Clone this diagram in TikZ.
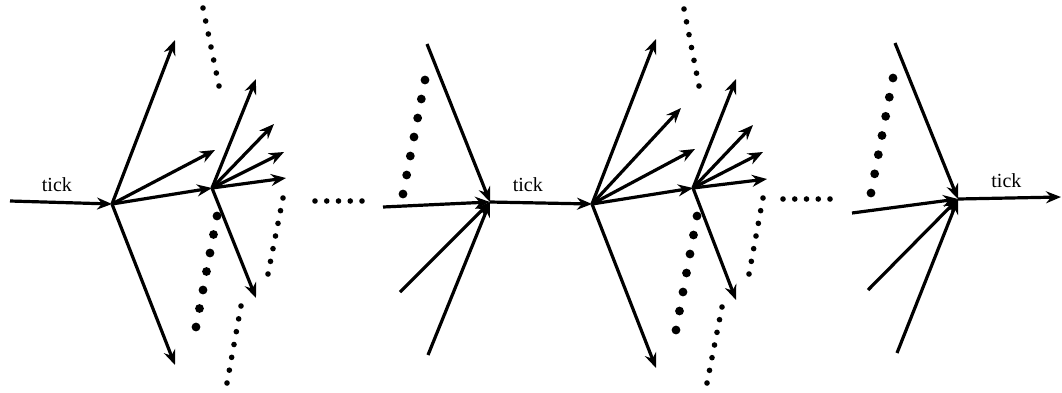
\documentclass[tikz,border=0pt]{standalone}
\usepackage{fontspec}
\setmainfont{Liberation Serif}
\usepackage{tikz}
\usetikzlibrary{arrows.meta, calc}

% a row of n+1 dots from #1 to #2, radius #4
\newcommand{\dotrow}[4]{%
  \foreach \k in {0,...,#3} \fill ($(#1)!\k/#3!(#2)$) circle (#4);}

\begin{document}
\begin{tikzpicture}[
    x=1pt, y=-1pt,
    >={Stealth[length=15pt, width=12pt, inset=5pt]},
    every node/.style={font=\fontsize{20}{24}\selectfont, inner sep=0pt},
    flow/.style={draw=black, line width=3.2pt, ->},
    ticklabel/.style={above=9pt}
]
\useasboundingbox (0,0) rectangle (1062,392);

% Branch points
\coordinate (in0)  at (10,201);
\coordinate (fan1) at (112,204);
\coordinate (sub1) at (212,188);
\coordinate (join1) at (490,202);
\coordinate (fan2) at (592,204);
\coordinate (sub2) at (693,188);
\coordinate (join2) at (958,199);
\coordinate (out0) at (1061,197);

% Free ends, first stage
\coordinate (f1a) at (175,40);
\coordinate (f1b) at (215,150);
\coordinate (f1d) at (175,365);
\coordinate (s1a) at (256,79);
\coordinate (s1b) at (274,124);
\coordinate (s1c) at (284,152);
\coordinate (s1d) at (286,178);
\coordinate (s1e) at (256,298);
\coordinate (j1a) at (427,44);
\coordinate (j1b) at (383,207);
\coordinate (j1c) at (400,292);
\coordinate (j1d) at (428,355);

% Free ends, second stage
\coordinate (f2a) at (656,39);
\coordinate (f2b) at (681,108);
\coordinate (f2c) at (695,149);
\coordinate (f2d) at (656,368);
\coordinate (s2a) at (736,79);
\coordinate (s2b) at (753,125);
\coordinate (s2c) at (763,152);
\coordinate (s2d) at (767,179);
\coordinate (s2e) at (736,300);
\coordinate (j2a) at (895,43);
\coordinate (j2b) at (852,213);
\coordinate (j2c) at (868,290);
\coordinate (j2d) at (897,353);

% Ticks
\draw[flow] (in0) -- node[pos=0.46, ticklabel] (tick1) {tick} (fan1);
\draw[flow] (join1) -- node[pos=0.37, ticklabel] (tick2) {tick} (fan2);
\draw[flow] (join2) -- node[pos=0.47, ticklabel] (tick3) {tick} (out0);

% Stage 1
\draw[flow] (fan1) -- (f1a);
\draw[flow] (fan1) -- (f1b);
\draw[flow] (fan1) -- (sub1);
\draw[flow] (fan1) -- (f1d);
\draw[flow] (sub1) -- (s1a);
\draw[flow] (sub1) -- (s1b);
\draw[flow] (sub1) -- (s1c);
\draw[flow] (sub1) -- (s1d);
\draw[flow] (sub1) -- (s1e);
\draw[flow] (j1a) -- (join1);
\draw[flow] (j1b) -- (join1);
\draw[flow] (j1c) -- (join1);
\draw[flow] (j1d) -- (join1);

% Stage 2
\draw[flow] (fan2) -- (f2a);
\draw[flow] (fan2) -- (f2b);
\draw[flow] (fan2) -- (f2c);
\draw[flow] (fan2) -- (sub2);
\draw[flow] (fan2) -- (f2d);
\draw[flow] (sub2) -- (s2a);
\draw[flow] (sub2) -- (s2b);
\draw[flow] (sub2) -- (s2c);
\draw[flow] (sub2) -- (s2d);
\draw[flow] (sub2) -- (s2e);
\draw[flow] (j2a) -- (join2);
\draw[flow] (j2b) -- (join2);
\draw[flow] (j2c) -- (join2);
\draw[flow] (j2d) -- (join2);

% Dots, stage 1
\dotrow{203,8}{219,86}{6}{2.8}
\dotrow{217,216}{196,327}{6}{4.4}
\dotrow{283,198}{268,274}{6}{2.8}
\dotrow{241,306}{227,383}{6}{2.8}
\dotrow{315,201}{362,201}{4}{2.8}
\dotrow{425,80}{403,194}{6}{4.4}

% Dots, stage 2
\dotrow{684,9}{699,86}{6}{2.8}
\dotrow{697,216}{676,330}{6}{4.4}
\dotrow{763,198}{749,274}{6}{2.8}
\dotrow{722,307}{707,383}{6}{2.8}
\dotrow{783,199}{830,199}{4}{2.8}
\dotrow{893,78}{871,193}{6}{4.4}

\end{tikzpicture}
\end{document}
